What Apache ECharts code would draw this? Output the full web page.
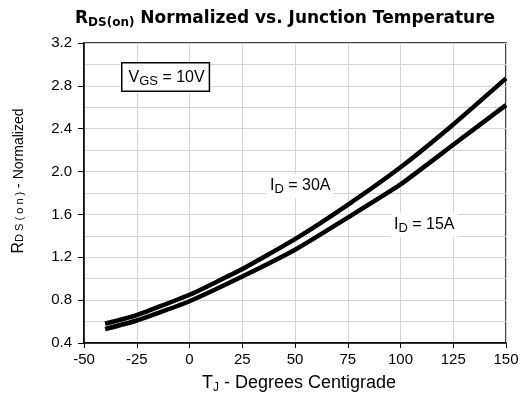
<!DOCTYPE html>
<html>
<head>
<meta charset="utf-8">
<script src="https://cdn.jsdelivr.net/npm/echarts@6/dist/echarts.min.js"></script>
<style>
  html, body { margin: 0; padding: 0; background: #fff; }
  #chart { width: 526px; height: 401px; }
</style>
</head>
<body>
<div id="chart"></div>
<script>
// junction temperature, degrees C
const temps = [-40, -25, 0, 25, 50, 75, 100, 125, 150]
// normalized RDS(on)
const id30 = [0.58, 0.66, 0.85, 1.09, 1.37, 1.69, 2.04, 2.44, 2.87]
const id15 = [0.53, 0.61, 0.79, 1.02, 1.27, 1.57, 1.88, 2.25, 2.62]

const FONT = 'Liberation Sans, Arial, sans-serif'
const TITLE_FONT = 'DejaVu Sans, Liberation Sans, sans-serif'

const pairs = (ys) => temps.map((t, i) => [t, ys[i]])

const lineSeries = (name, ys) => ({
  name,
  type: 'line',
  data: pairs(ys),
  smooth: 0.15,
  showSymbol: false,
  silent: true,
  lineStyle: { color: '#000', width: 4.5 },
  z: 5
})

const noteRich = {
  r: { fontFamily: FONT, fontSize: 16, color: '#000' },
  s: { fontFamily: FONT, fontSize: 13, color: '#000', padding: [7, 0, 0, 0] }
}

const chart = echarts.init(document.getElementById('chart'))

chart.setOption({
  animation: false,
  backgroundColor: '#fff',
  textStyle: { fontFamily: FONT },
  title: {
    text: '{r|R}{s|DS(on)}{r| Normalized vs. Junction Temperature}',
    left: 70,
    top: 4,
    textStyle: {
      rich: {
        r: { fontFamily: TITLE_FONT, fontSize: 17, fontWeight: 'bold', color: '#000' },
        s: { fontFamily: TITLE_FONT, fontSize: 12, fontWeight: 'bold', color: '#000', padding: [8, 0, 0, 0] }
      }
    }
  },
  grid: {
    left: 84, right: 20, top: 43, bottom: 58,
    show: true, borderColor: '#000', borderWidth: 1.5
  },
  xAxis: {
    type: 'value',
    min: -50, max: 150, interval: 25,
    name: '{r|T}{s|J}{r| - Degrees Centigrade}',
    nameLocation: 'middle',
    nameGap: 30,
    nameTextStyle: {
      padding: [0, 0, 0, 8],
      rich: {
        r: { fontFamily: FONT, fontSize: 18, color: '#000' },
        s: { fontFamily: FONT, fontSize: 12, color: '#000', padding: [9, 0, 0, 0] }
      }
    },
    axisLine: { onZero: false, lineStyle: { color: '#000', width: 1.5 } },
    axisTick: { show: true, length: 5, lineStyle: { color: '#000' } },
    axisLabel: { fontSize: 15, color: '#000', margin: 9 },
    splitLine: { lineStyle: { color: '#d4d4d4', width: 1 } }
  },
  yAxis: {
    type: 'value',
    min: 0.4, max: 3.2, interval: 0.4,
    name: '{r|R}{s|D S ( o n )}{n| - Normalized}',
    nameLocation: 'middle',
    nameGap: 57,
    nameRotate: 90,
    nameTextStyle: {
      padding: [0, 0, 0, 24],
      rich: {
        r: { fontFamily: FONT, fontSize: 16, color: '#000' },
        s: { fontFamily: FONT, fontSize: 11, color: '#000', padding: [2, 0, 0, 0] },
        n: { fontFamily: FONT, fontSize: 14, color: '#000' }
      }
    },
    axisLine: { show: true, onZero: false, lineStyle: { color: '#000', width: 1.5 } },
    axisTick: { show: true, length: 6, lineStyle: { color: '#000' } },
    minorTick: { show: false, splitNumber: 2 },
    axisLabel: {
      fontSize: 15, color: '#000', margin: 12,
      formatter: (v) => v.toFixed(1)
    },
    splitLine: { lineStyle: { color: '#d4d4d4', width: 1 } },
    minorSplitLine: { show: true, lineStyle: { color: '#d4d4d4', width: 1 } }
  },
  series: [lineSeries('ID = 30A', id30), lineSeries('ID = 15A', id15)],
  graphic: [
    {
      type: 'text', left: 121, top: 62, z: 10,
      style: {
        text: '{r|V}{s|GS}{r| = 10V}',
        backgroundColor: '#fff', borderColor: '#000', borderWidth: 1.5,
        padding: [4, 4, 3, 6],
        rich: noteRich
      }
    },
    {
      type: 'text', left: 267, top: 174, z: 10,
      style: {
        text: '{r|I}{s|D}{r| = 30A}',
        backgroundColor: '#fff', padding: [2, 3, 2, 3],
        rich: noteRich
      }
    },
    {
      type: 'text', left: 391, top: 213, z: 10,
      style: {
        text: '{r|I}{s|D}{r| = 15A}',
        backgroundColor: '#fff', padding: [2, 3, 2, 3],
        rich: noteRich
      }
    }
  ]
})
</script>
</body>
</html>
